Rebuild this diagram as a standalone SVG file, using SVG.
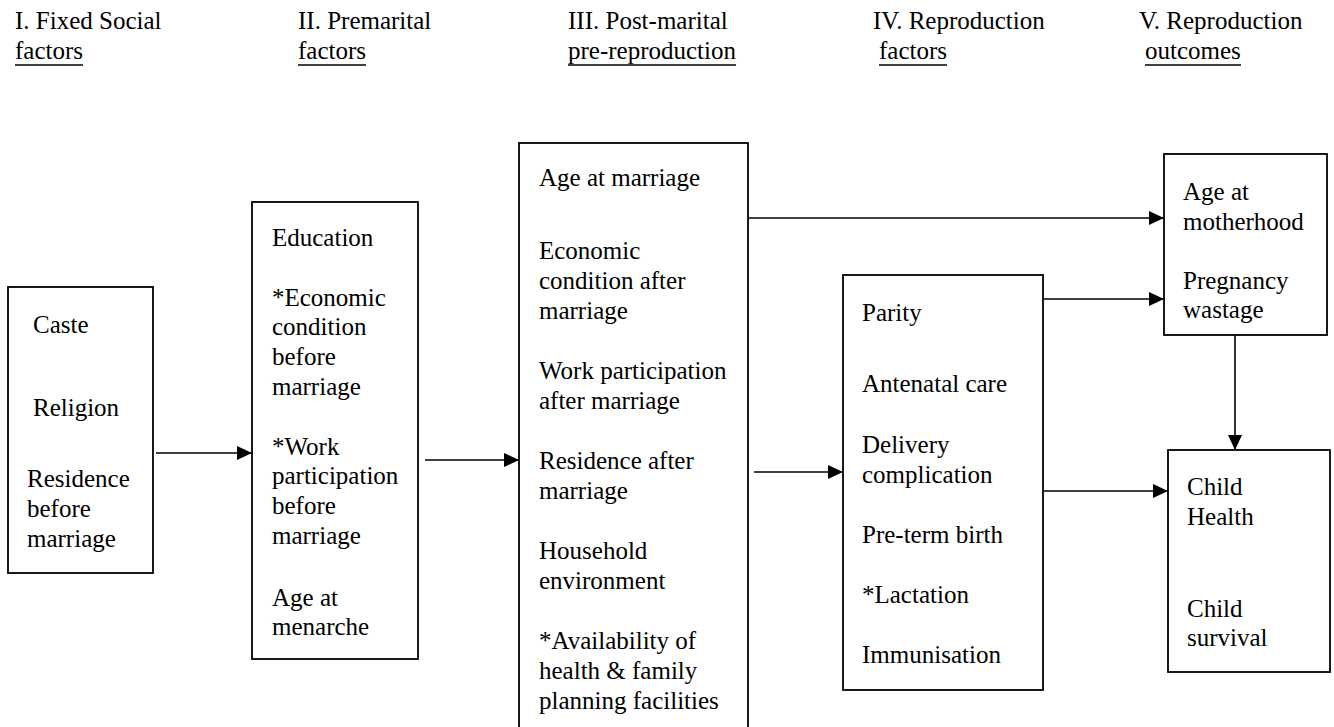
<svg xmlns="http://www.w3.org/2000/svg" width="1334" height="727" viewBox="0 0 1334 727">
<style>
text{font-family:"Liberation Serif","Times New Roman",serif;font-size:25px;fill:#000}
.box{fill:#fff;stroke:#000;stroke-width:1.8}
.ul{stroke:#000;stroke-width:1.6}
.con{stroke:#000;stroke-width:1.6;fill:none;marker-end:url(#ah)}
</style>
<defs>
<marker id="ah" markerWidth="15" markerHeight="14" refX="15" refY="7" orient="auto" markerUnits="userSpaceOnUse"><path d="M0,0 L15,7 L0,14 z" fill="#000"/></marker>
</defs>
<rect width="1334" height="727" fill="#fff"/>
<g id="headers">
<text x="15" y="29">I. Fixed Social</text><text x="15" y="59">factors</text><line class="ul" x1="15" y1="65" x2="83" y2="65"/>
<text x="298" y="29">II. Premarital</text><text x="298" y="59">factors</text><line class="ul" x1="298" y1="65" x2="366" y2="65"/>
<text x="568" y="29">III. Post-marital</text><text x="568" y="59">pre-reproduction</text><line class="ul" x1="568" y1="65" x2="736" y2="65"/>
<text x="873" y="29">IV. Reproduction</text><text x="879" y="59">factors</text><line class="ul" x1="879" y1="65" x2="947" y2="65"/>
<text x="1139" y="29">V. Reproduction</text><text x="1145" y="59">outcomes</text><line class="ul" x1="1145" y1="65" x2="1241" y2="65"/>
</g>
<g id="node-fixed">
<rect class="box" x="8" y="287" width="145" height="286"/>
<text x="33" y="333">Caste</text>
<text x="33" y="416">Religion</text>
<text x="27" y="487">Residence</text>
<text x="27" y="517">before</text>
<text x="27" y="547">marriage</text>
</g>
<g id="node-premarital">
<rect class="box" x="252" y="202" width="166" height="457"/>
<text x="272" y="246">Education</text>
<text x="272" y="306">*Economic</text>
<text x="272" y="335">condition</text>
<text x="272" y="365">before</text>
<text x="272" y="395">marriage</text>
<text x="272" y="455">*Work</text>
<text x="272" y="484">participation</text>
<text x="272" y="514">before</text>
<text x="272" y="544">marriage</text>
<text x="272" y="606">Age at</text>
<text x="272" y="635">menarche</text>
</g>
<g id="node-postmarital">
<rect class="box" x="519" y="143" width="229" height="600"/>
<text x="539" y="186">Age at marriage</text>
<text x="539" y="259">Economic</text>
<text x="539" y="289">condition after</text>
<text x="539" y="319">marriage</text>
<text x="539" y="379">Work participation</text>
<text x="539" y="409">after marriage</text>
<text x="539" y="469">Residence after</text>
<text x="539" y="499">marriage</text>
<text x="539" y="559">Household</text>
<text x="539" y="589">environment</text>
<text x="539" y="649">*Availability of</text>
<text x="539" y="679">health &amp; family</text>
<text x="539" y="709">planning facilities</text>
</g>
<g id="node-reproduction">
<rect class="box" x="843" y="275" width="200" height="415"/>
<text x="862" y="321">Parity</text>
<text x="862" y="392">Antenatal care</text>
<text x="862" y="453">Delivery</text>
<text x="862" y="483">complication</text>
<text x="862" y="543">Pre-term birth</text>
<text x="862" y="603">*Lactation</text>
<text x="862" y="663">Immunisation</text>
</g>
<g id="node-outcome-mother">
<rect class="box" x="1164" y="154" width="163" height="181"/>
<text x="1183" y="200">Age at</text>
<text x="1183" y="230">motherhood</text>
<text x="1183" y="289">Pregnancy</text>
<text x="1183" y="318">wastage</text>
</g>
<g id="node-outcome-child">
<rect class="box" x="1168" y="450" width="162" height="222"/>
<text x="1187" y="495">Child</text>
<text x="1187" y="525">Health</text>
<text x="1187" y="617">Child</text>
<text x="1187" y="646">survival</text>
</g>
<g id="connectors">
<line class="con" x1="156" y1="453" x2="252" y2="453"/>
<line class="con" x1="425" y1="460" x2="519" y2="460"/>
<line class="con" x1="748" y1="218" x2="1164" y2="218"/>
<line class="con" x1="754" y1="472" x2="843" y2="472"/>
<line class="con" x1="1043" y1="299" x2="1164" y2="299"/>
<line class="con" x1="1043" y1="491" x2="1168" y2="491"/>
<line class="con" x1="1235" y1="335" x2="1235" y2="450"/>
</g>
</svg>
